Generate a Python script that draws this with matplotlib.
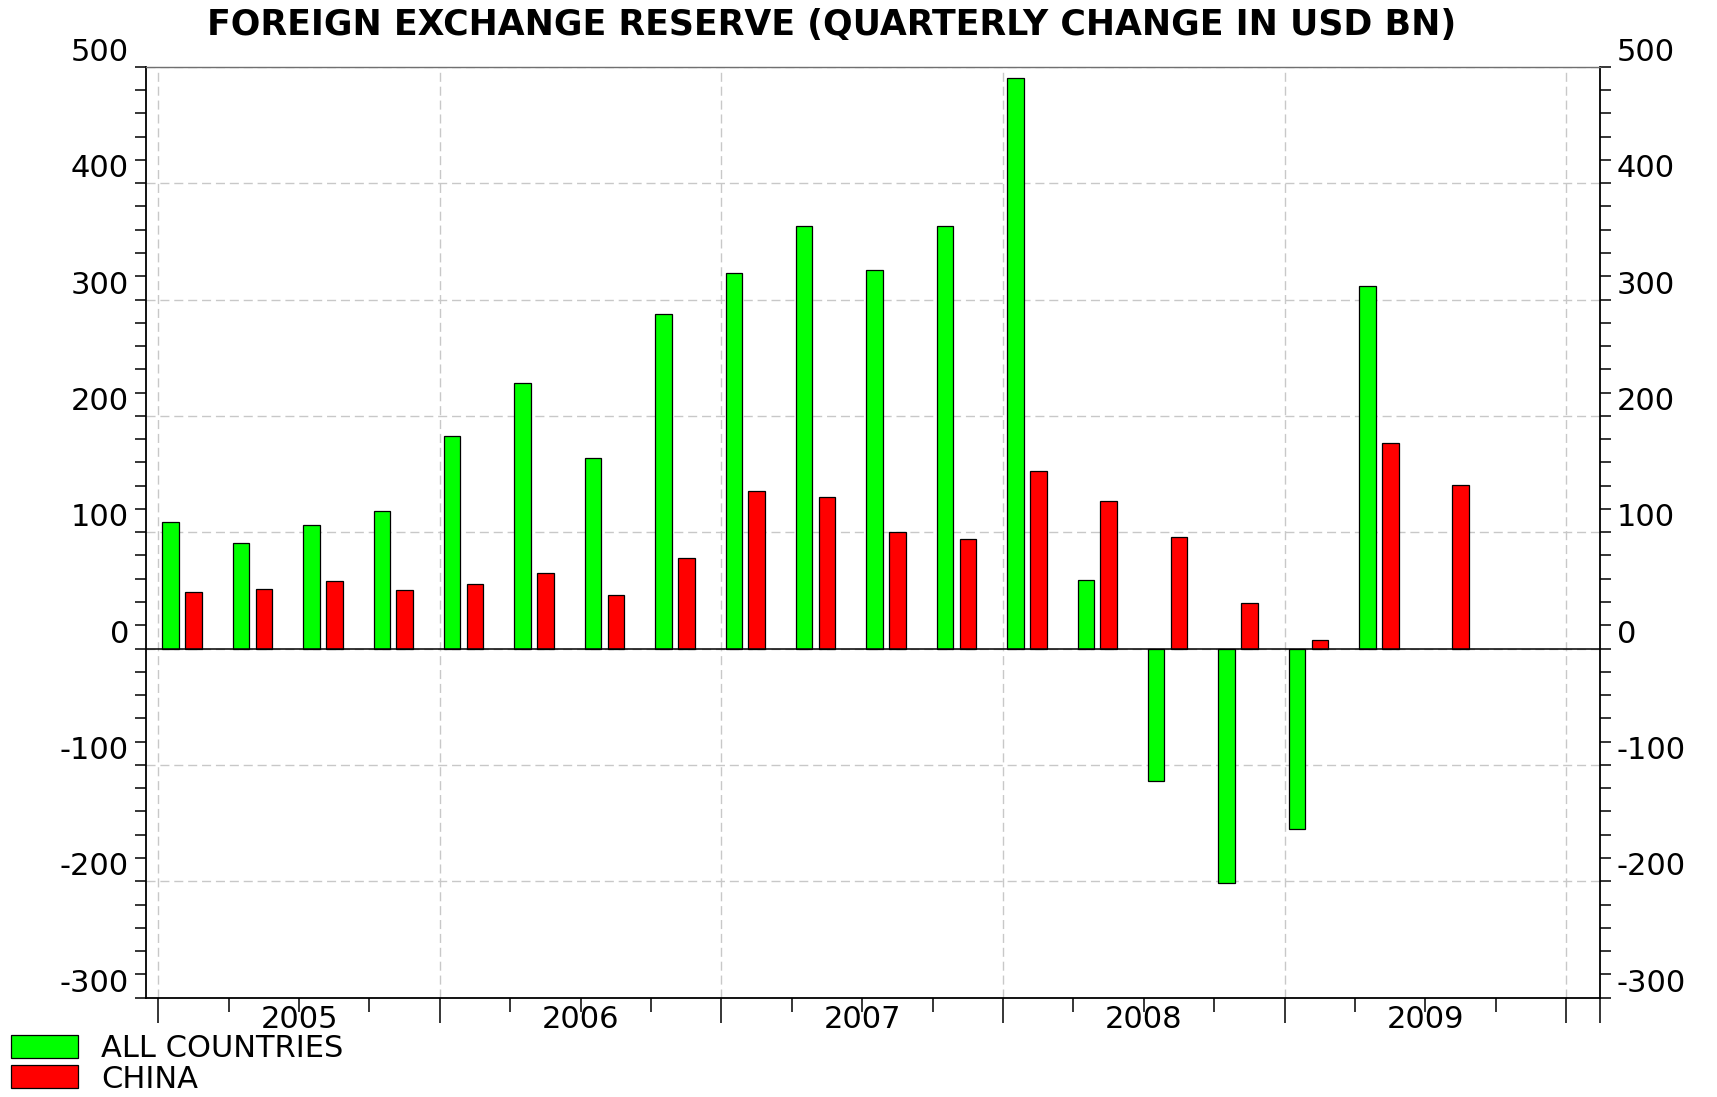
#!/usr/bin/env python3

import numpy as np
import matplotlib
matplotlib.use("Agg")
import matplotlib.pyplot as plt
from matplotlib.ticker import FixedLocator, MultipleLocator

# Quarterly change in FX reserves, USD bn (2005Q1 .. 2009Q4)
quarters = [f"{y}Q{q}" for y in range(2005, 2010) for q in range(1, 5)]
all_countries = [108.6, 90.3, 106.6, 118.6, 182.9, 228.1, 163.5, 287.9,
                 323.0, 363.0, 325.2, 363.0, 490.5, 58.5, -113.7, -201.4,
                 -155.1, 311.6, np.nan, np.nan]
china = [48.6, 51.1, 57.7, 50.0, 55.7, 64.6, 45.8, 77.5,
         135.1, 130.2, 100.3, 93.9, 153.0, 126.5, 96.3, 39.4,
         7.1, 177.0, 140.7, np.nan]
years = ["2005", "2006", "2007", "2008", "2009"]

plt.rcParams['font.family'] = ['DejaVu Sans']
plt.rcParams['axes.unicode_minus'] = False

fig = plt.figure(figsize=(17.17, 10.97), dpi=100)
ax = fig.add_axes([0.0848, 0.0906, 0.9319 - 0.0848, 0.9391 - 0.0906])

idx = np.arange(len(quarters))
bw = 0.234
g = ax.bar(idx + 0.175, all_countries, width=bw, color="#00ff00",
           edgecolor="black", linewidth=0.9, zorder=3, label="ALL COUNTRIES")
r = ax.bar(idx + 0.5, china, width=bw, color="#ff0000",
           edgecolor="black", linewidth=0.9, zorder=3, label="CHINA")

ax.axhline(0, color="black", lw=1.1, zorder=4)

x_min, x_max = -0.18, 20.48
ax.set_xlim(x_min, x_max)
ax.set_ylim(-300, 500)

# y axis: labels on both sides, sitting on top of their tick
ax.yaxis.set_major_locator(MultipleLocator(100))
ax.yaxis.set_minor_locator(MultipleLocator(20))
ax.tick_params(axis="y", which="both", direction="out", length=8, width=1.1,
               left=True, right=True, labelleft=True, labelright=True,
               labelsize=22, pad=4)
for t in ax.yaxis.get_major_ticks():
    t.label1.set_va("bottom")
    t.label2.set_va("bottom")

# x axis: long ticks at year starts, short ticks at quarters
year_starts = list(range(0, 21, 4))
ax.xaxis.set_major_locator(FixedLocator(year_starts + [x_max]))
ax.xaxis.set_minor_locator(FixedLocator([q for q in range(21) if q % 4]))
ax.tick_params(axis="x", which="major", direction="out", length=18, width=1.1,
               labelbottom=False)
ax.tick_params(axis="x", which="minor", direction="out", length=10, width=1.1)
for i, yr in enumerate(years):
    ax.text(4 * i + 2, -0.0327, yr, transform=ax.get_xaxis_transform(),
            ha="center", va="baseline", fontsize=22)

# grid
ax.grid(True, axis="y", which="major", color="#c8c8c8", lw=1,
        dashes=(6.5, 3.5), zorder=0)
for xs in year_starts:
    ax.axvline(xs, color="#c8c8c8", lw=1, dashes=(6.5, 3.5), zorder=0)

for s in ("left", "right", "bottom"):
    ax.spines[s].set_linewidth(1.3)
    ax.spines[s].set_color("black")
ax.spines["top"].set_color("#707070")
ax.spines["top"].set_linewidth(1.0)

fig.text(0.4846, 0.993, "FOREIGN EXCHANGE RESERVE (QUARTERLY CHANGE IN USD BN)",
         ha="center", va="top", fontsize=25, fontweight="bold")

fig.legend(handles=[g, r], loc="upper left",
           bbox_to_anchor=(11 / 1717, 1 - 1034 / 1097),
           frameon=False, fontsize=22, borderpad=0, borderaxespad=0,
           handlelength=2.2, handleheight=0.78, handletextpad=0.75,
           labelspacing=0.05)

fig.savefig("out.png", dpi=100)
